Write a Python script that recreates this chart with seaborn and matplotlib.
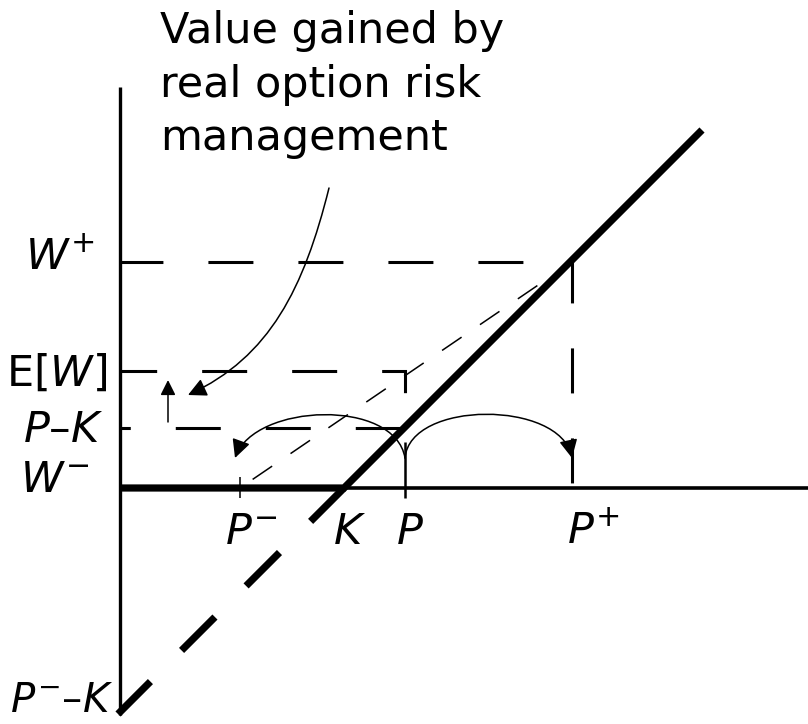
import matplotlib
matplotlib.use("Agg")
import matplotlib.pyplot as plt
import seaborn as sns
from matplotlib.path import Path
from matplotlib.patches import FancyArrowPatch

# levels on the price axis and on the value axis (origin at W-)
x_names = ["$P^{-}$", "$K$", "$P$", "$P^{+}$"]
x_vals = [120, 224, 285, 452]
y_names = ["$W^{+}$", "E[$W$]", "$P$\u2013$K$", "$W^{-}$", "$P^{-}$\u2013$K$"]
y_vals = [226, 117, 60, 0, -226]

# payoff curve max(P-K, 0) and its dashed continuation below zero
payoff_x = [0, 224, 582]
payoff_y = [0, 0, 358]
loss_x = [224, -2]
loss_y = [0, -226]

note = "Value gained by\nreal option risk\nmanagement"

sns.set_theme(style="white")
plt.rcParams["font.family"] = ["DejaVu Sans"]
plt.rcParams["mathtext.fontset"] = "dejavusans"
plt.rcParams["lines.scale_dashes"] = False
plt.rcParams["text.color"] = "black"

fig = plt.figure(figsize=(8.08, 7.24), dpi=100)
ax = fig.add_axes([0, 0, 1, 1])
ax.set_xlim(-120, 688)
ax.set_ylim(-236, 488)
ax.set_axis_off()


def seg(xs, ys, lw, dash=None, off=0.0):
    sns.lineplot(x=xs, y=ys, sort=False, estimator=None, color="black",
                 linewidth=lw, ax=ax)
    ln = ax.lines[-1]
    ln.set_solid_capstyle("butt")
    ln.set_dash_capstyle("butt")
    ln.set_solid_joinstyle("miter")
    ln.set_dash_joinstyle("miter")
    if dash is not None:
        ln.set_linestyle((off, dash))
    return ln


# axes
seg([0, 0], [-227, 401], 2.4)
seg([0, 688], [0, 0], 2.6)

# dashed guide lines
seg([0, x_vals[3], x_vals[3]], [y_vals[0], y_vals[0], y_vals[3]], 2.2, (32.4, 32.4), 1.5)
seg([0, x_vals[2], x_vals[2]], [y_vals[1], y_vals[1], 93], 2.2, (32.4, 32.4), 6)
seg([0, 280], [y_vals[2], y_vals[2]], 2.2, (32.4, 32.4), 25)

# chord between the two outcomes
seg([x_vals[0], x_vals[3]], [y_vals[3], y_vals[0]], 1.1, (17, 16), 22)

# ticks
seg([x_vals[0], x_vals[0]], [-10, 11], 1.1)
seg([x_vals[2], x_vals[2]], [-10, 46], 1.8)

# payoff
seg(payoff_x, payoff_y, 5.2)
seg(loss_x, loss_y, 5.2, (34, 31.7), 0)


def curve(pts, scale=16, hl=0.7, hw=0.35):
    codes = [Path.MOVETO] + [Path.CURVE4] * (len(pts) - 1)
    if len(pts) == 2:
        codes = [Path.MOVETO, Path.LINETO]
    arr = FancyArrowPatch(path=Path(pts, codes),
                          arrowstyle=f"-|>,head_length={hl},head_width={hw}",
                          mutation_scale=scale, color="black", lw=1.1)
    ax.add_patch(arr)


curve([(209, 300), (184, 200), (150, 131), (68, 93)])
curve([(48, 66), (48, 108)], scale=13)
curve([(285, 30), (275, 90), (135, 85), (115, 30)])
curve([(285, 30), (290, 88), (440, 88), (452, 30)])

# labels
fs = 31
x_lab_x = [131, 230, 290, 474]
for name, xp in zip(x_names, x_lab_x):
    ax.text(xp, -44, name, ha="center", va="center", fontsize=fs)

y_lab = [(-25, 230), (-13, 114), (-17, 58), (-30, 8), (-7, -213)]
for name, (xp, yp) in zip(y_names, y_lab):
    ax.text(xp, yp, name, ha="right", va="center",
            fontsize=fs if yp > -200 else 29)

ax.text(40, 478, note, ha="left", va="top", fontsize=31, linespacing=1.35)

fig.savefig("out.png", dpi=100)
